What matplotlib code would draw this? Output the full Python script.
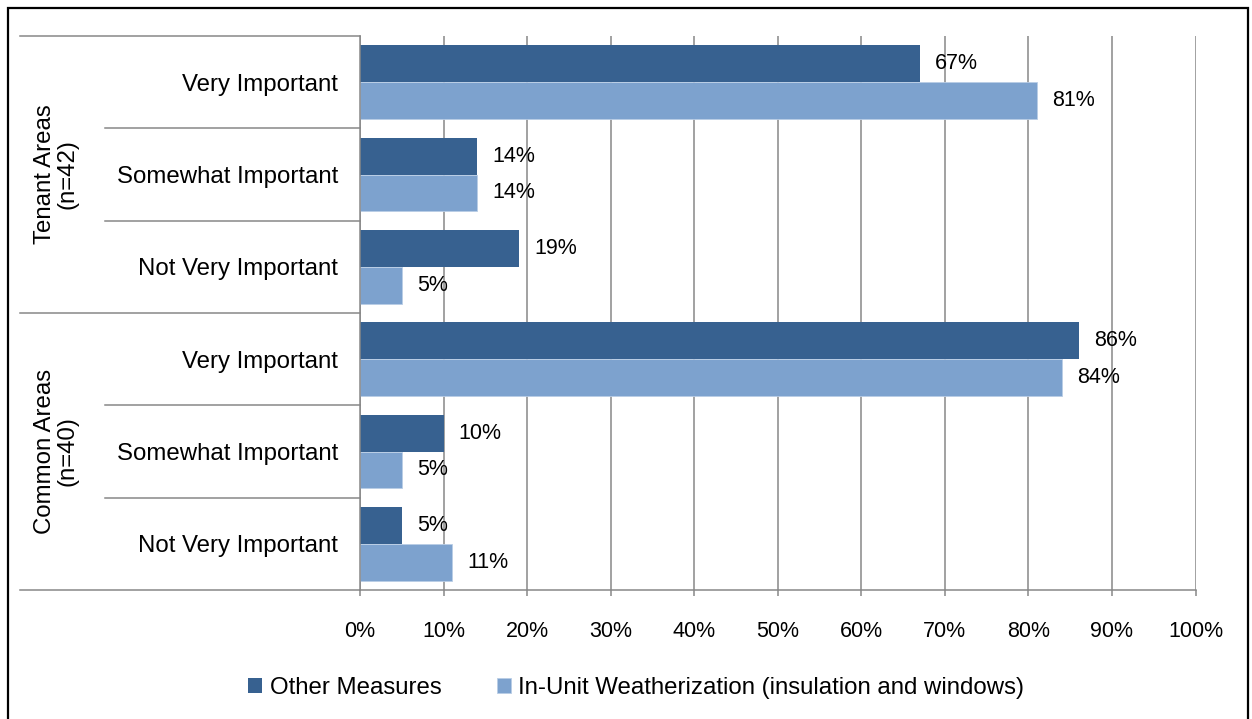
import matplotlib
matplotlib.use('Agg')
import matplotlib.pyplot as plt
import matplotlib.transforms as mtransforms
from matplotlib.lines import Line2D
from matplotlib.patches import Rectangle
import numpy as np

# data
groups = ['Tenant Areas\n(n=42)', 'Common Areas\n(n=40)']
categories = ['Very Important', 'Somewhat Important', 'Not Very Important',
              'Very Important', 'Somewhat Important', 'Not Very Important']
other_measures = [67, 14, 19, 86, 10, 5]
weatherization = [81, 14, 5, 84, 5, 11]
series_names = ['Other Measures', 'In-Unit Weatherization (insulation and windows)']
xticks = [0, 10, 20, 30, 40, 50, 60, 70, 80, 90, 100]

dark, light, grey = '#376190', '#7DA2CE', '#878787'
W, H = 1252, 719
fs_small, fs_big = 15.5, 17.3

plt.rcParams.update({'font.family': ['Liberation Sans', 'DejaVu Sans'], 'font.size': fs_small})
fig = plt.figure(figsize=(W / 100, H / 100), dpi=100)
ax = fig.add_axes([360 / W, 1 - 590 / H, (1195.5 - 360) / W, (590 - 36) / H])

y = np.arange(len(categories))
h = 0.4
ax.barh(y - h / 2, other_measures, height=h, color=dark, label=series_names[0], zorder=2)
ax.barh(y + h / 2, weatherization, height=h, color=light, edgecolor='#B9CDE5', lw=0.6,
        label=series_names[1], zorder=2)

for yy, a, b in zip(y, other_measures, weatherization):
    ax.annotate('%d%%' % a, (a, yy - h / 2), xytext=(11, 0), textcoords='offset points',
                ha='left', va='center', fontsize=fs_small)
    ax.annotate('%d%%' % b, (b, yy + h / 2), xytext=(11, 0), textcoords='offset points',
                ha='left', va='center', fontsize=fs_small)

ax.set_xlim(0, 100)
ax.set_ylim(len(categories) - 0.5, -0.5)
ax.set_xticks(xticks)
ax.set_xticklabels(['%d%%' % t for t in xticks])
ax.set_yticks(y)
ax.set_yticklabels(categories, fontsize=fs_big)
ax.tick_params(axis='y', length=0, pad=16)
ax.tick_params(axis='x', length=4, width=1.1, color=grey, pad=18, direction='out')
ax.grid(axis='x', color=grey, lw=1.1)
ax.set_axisbelow(True)
for s in ['top', 'right']:
    ax.spines[s].set_visible(False)
for s in ['left', 'bottom']:
    ax.spines[s].set_color(grey)
    ax.spines[s].set_linewidth(1.1)

# category table lines on the left
tr = mtransforms.blended_transform_factory(fig.transFigure, ax.transData)
x_out, x_in, x_ax = 20 / W, 105 / W, 360 / W
for yy in [0.5, 1.5, 3.5, 4.5]:
    fig.add_artist(Line2D([x_in, x_ax], [yy, yy], transform=tr, color=grey, lw=1.1))
for yy in [-0.5, 2.5, 5.5]:
    fig.add_artist(Line2D([x_out, x_ax], [yy, yy], transform=tr, color=grey, lw=1.1))

for i, g in enumerate(groups):
    fig.text(56 / W, 1 + 3 * i, g, transform=tr, rotation=90, ha='center', va='center',
             fontsize=fs_big, linespacing=1.0)

fig.legend(loc='center', bbox_to_anchor=(0.508, 1 - 688 / H), ncol=2, frameon=False,
           handlelength=0.6, handleheight=0.6, handletextpad=0.3, columnspacing=2.3,
           fontsize=fs_big)

# outer frame
fig.add_artist(Rectangle((8 / W, -0.02), (1248 - 8) / W, 0.02 + 1 - 8 / H,
                         transform=fig.transFigure, fill=False, ec='black', lw=1.6))

fig.savefig('out.png', dpi=100)
